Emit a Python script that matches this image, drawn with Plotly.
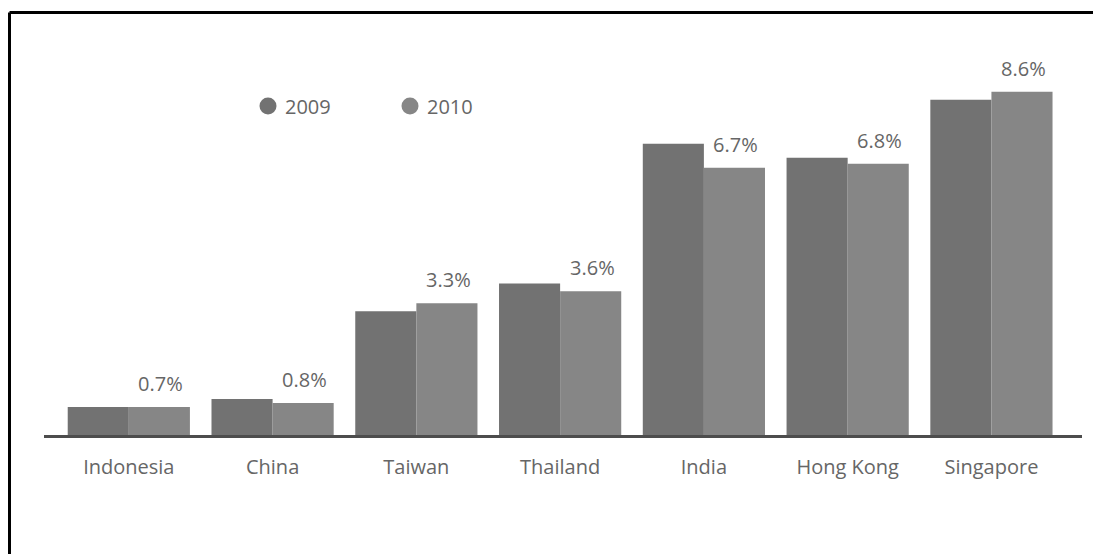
import plotly.graph_objects as go

countries = ["Indonesia", "China", "Taiwan", "Thailand", "India", "Hong Kong", "Singapore"]
growth_2009 = [0.7, 0.9, 3.1, 3.8, 7.3, 6.95, 8.4]
growth_2010 = [0.7, 0.8, 3.3, 3.6, 6.7, 6.8, 8.6]
labels_2010 = ["0.7%", "0.8%", "3.3%", "3.6%", "6.7%", "6.8%", "8.6%"]
legend_years = ["2009", "2010"]

C2009 = "#727272"
C2010 = "#868686"
TEXT = "#666666"
FONT = "Open Sans"
FS = 20

W, H = 1093, 554
L, R, T, B = 44, 11, 40, 119

fig = go.Figure()
fig.add_trace(go.Bar(x=countries, y=growth_2009, name="2009", marker_color=C2009,
                     marker_line_width=0, showlegend=False))
fig.add_trace(go.Bar(x=countries, y=growth_2010, name="2010", marker_color=C2010,
                     marker_line_width=0, showlegend=False))

# value labels above the 2010 bars
for c, v, t in zip(countries, growth_2010, labels_2010):
    fig.add_annotation(x=c, y=v, text=t, showarrow=False, xshift=32, yshift=8,
                       yanchor="bottom", font=dict(family=FONT, size=FS, color=TEXT))

pw, ph = W - L - R, H - T - B
def px(x):
    return (x - L) / pw
def py(y):
    return (H - B - y) / ph

# legend: filled circles with year labels
for i, (yr, col) in enumerate(zip(legend_years, (C2009, C2010))):
    cx = 268 + 142 * i
    r = 8.5
    fig.add_shape(type="circle", xref="paper", yref="paper",
                  x0=px(cx - r), x1=px(cx + r), y0=py(106 + r), y1=py(106 - r),
                  fillcolor=col, line=dict(width=0))
    fig.add_annotation(xref="paper", yref="paper", x=px(cx + 15), y=py(106),
                       text=yr, showarrow=False, xanchor="left", yanchor="middle",
                       font=dict(family=FONT, size=FS, color=TEXT))

# frame along the top and left edges
fig.add_shape(type="line", xref="paper", yref="paper", x0=px(9.5), x1=px(W + 5),
              y0=py(12.5), y1=py(12.5), line=dict(color="black", width=3))
fig.add_shape(type="line", xref="paper", yref="paper", x0=px(9.5), x1=px(9.5),
              y0=py(12.5), y1=py(H + 5), line=dict(color="black", width=3))

fig.update_layout(
    width=W, height=H,
    margin=dict(l=L, r=R, t=T, b=B),
    paper_bgcolor="white", plot_bgcolor="white",
    barmode="group", bargap=0.15, bargroupgap=0,
    showlegend=False,
    font=dict(family=FONT, size=FS, color=TEXT),
    xaxis=dict(range=[-0.59, 6.63], showgrid=False, zeroline=False, ticks="",
               showline=True, linecolor="#4d4d4d", linewidth=3, ticklabelstandoff=12,
               tickfont=dict(family=FONT, size=FS, color=TEXT)),
    yaxis=dict(range=[0, 9.9], visible=False, showgrid=False, zeroline=False),
)

fig.write_html("out.html")
